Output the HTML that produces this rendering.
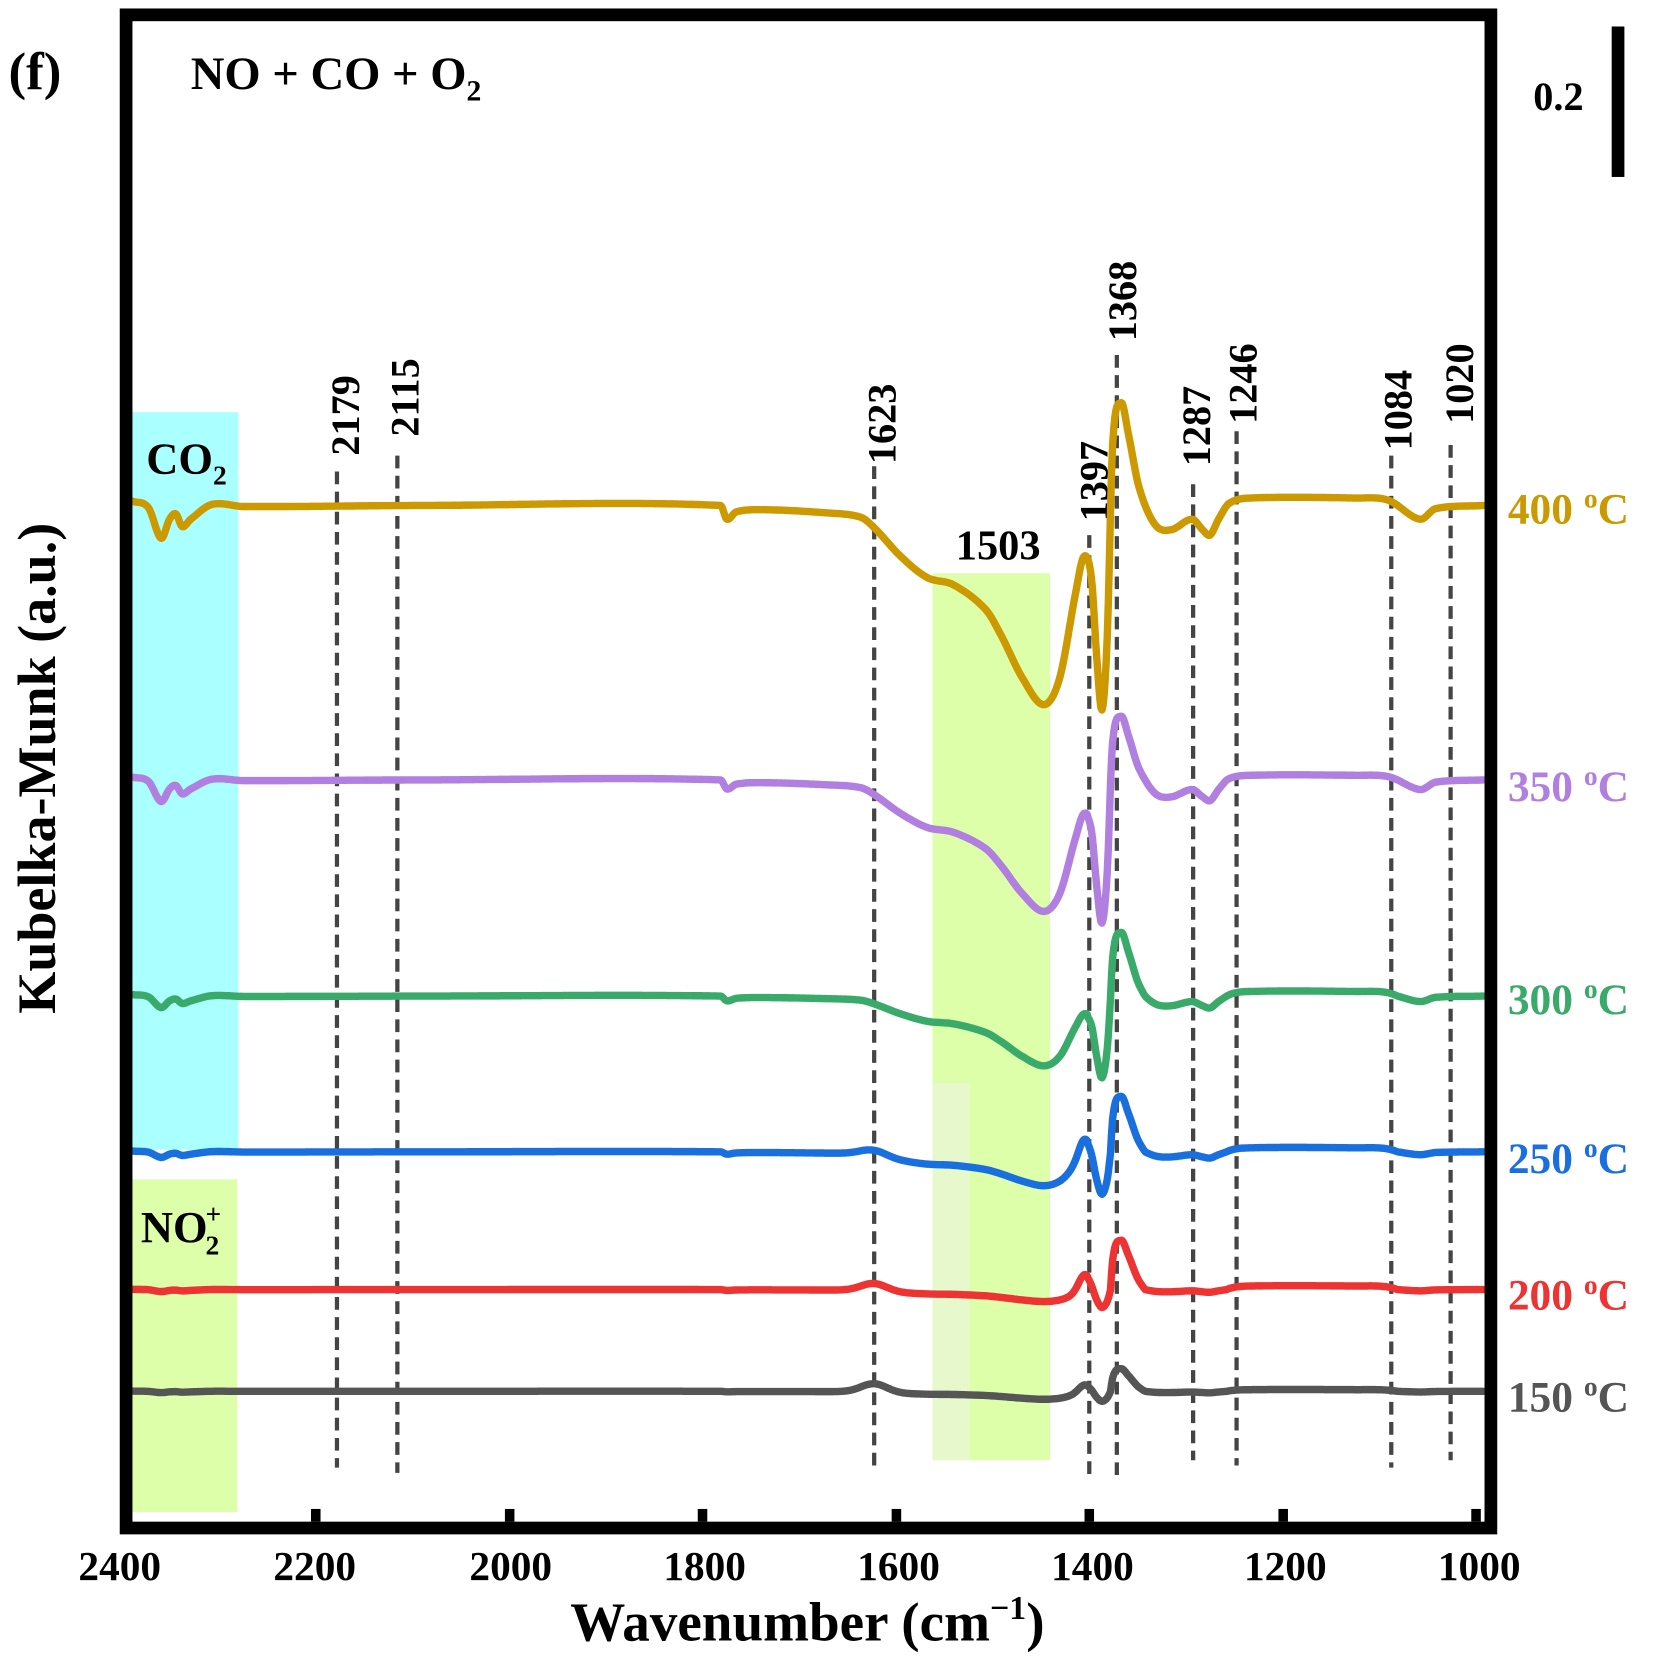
<!DOCTYPE html>
<html><head><meta charset="utf-8"><style>
html,body{margin:0;padding:0;background:#fff}
svg{display:block}
text{font-family:"Liberation Serif",serif;font-weight:bold}
</style></head><body>
<svg id="s" width="1653" height="1661" viewBox="0 0 1560 1567.5" preserveAspectRatio="none" xmlns="http://www.w3.org/2000/svg">
<rect x="125" y="389" width="100" height="696" fill="#aaffff"/>
<rect x="125" y="1113" width="99" height="314" fill="#ddffaa"/>
<rect x="880" y="541" width="111" height="837" fill="#ddffaa"/>
<rect x="880" y="1022" width="35" height="356" fill="#e6f8cc"/>
<g stroke="#444" stroke-width="4" stroke-dasharray="12,7">
<line x1="318" y1="445" x2="318" y2="1385"/>
<line x1="375" y1="430" x2="375" y2="1390"/>
<line x1="825" y1="440" x2="825" y2="1388"/>
<line x1="1028" y1="505" x2="1028" y2="1395"/>
<line x1="1054" y1="335" x2="1054" y2="1398"/>
<line x1="1126" y1="457" x2="1126" y2="1378"/>
<line x1="1167" y1="407" x2="1167" y2="1383"/>
<line x1="1313" y1="430" x2="1313" y2="1385"/>
<line x1="1369" y1="420" x2="1369" y2="1378"/>
</g>
<g font-size="38" fill="#000">
<text transform="translate(339,430) rotate(-90)">2179</text>
<text transform="translate(395,412) rotate(-90)">2115</text>
<text transform="translate(845,438) rotate(-90)">1623</text>
<text transform="translate(1045,492) rotate(-90)">1397</text>
<text transform="translate(1072,322) rotate(-90)">1368</text>
<text transform="translate(1142,440) rotate(-90)">1287</text>
<text transform="translate(1186,400) rotate(-90)">1246</text>
<text transform="translate(1332,425) rotate(-90)">1084</text>
<text transform="translate(1390,400) rotate(-90)">1020</text>
<text x="942" y="528" text-anchor="middle" font-size="40">1503</text>
<text x="138" y="447" font-size="42">CO<tspan font-size="26" dy="10">2</tspan></text>
<text x="133" y="1172" font-size="42">NO<tspan font-size="26" dx="-2" dy="12">2</tspan><tspan font-size="26" dx="-13" dy="-30">+</tspan></text>
<text x="180" y="84" font-size="44">NO + CO + O<tspan font-size="28" dy="11">2</tspan></text>
<text x="8" y="84" font-size="50">(f)</text>
<text x="1447" y="104" font-size="38">0.2</text>
</g>
<rect x="1521" y="25" width="12" height="142" fill="#000"/>
<g id="curves" fill="none" stroke-width="7" stroke-linejoin="round" stroke-linecap="round"></g>
<rect x="119" y="14" width="1288" height="1428" fill="none" stroke="#000" stroke-width="12"/>
<g stroke="#000" stroke-width="9">
<line x1="298" y1="1436" x2="298" y2="1424"/>
<line x1="481" y1="1436" x2="481" y2="1424"/>
<line x1="663" y1="1436" x2="663" y2="1424"/>
<line x1="846" y1="1436" x2="846" y2="1424"/>
<line x1="1028" y1="1436" x2="1028" y2="1424"/>
<line x1="1211" y1="1436" x2="1211" y2="1424"/>
<line x1="1393" y1="1436" x2="1393" y2="1424"/>
</g>
<g font-size="39" text-anchor="middle">
<text x="113" y="1491">2400</text><text x="297" y="1491">2200</text><text x="482" y="1491">2000</text>
<text x="665" y="1491">1800</text><text x="848" y="1491">1600</text><text x="1031" y="1491">1400</text>
<text x="1213" y="1491">1200</text><text x="1396" y="1491">1000</text>
<text x="762" y="1548" font-size="52">Wavenumber (cm<tspan font-size="32" dy="-20">−1</tspan><tspan dy="20">)</tspan></text>
<text transform="translate(52,725) rotate(-90)" font-size="51">Kubelka-Munk (a.u.)</text>
</g>
<g font-size="41">
<text x="1423" y="494" fill="#cc9900">400 <tspan font-size="26" dy="-15">o</tspan><tspan dy="15">C</tspan></text>
<text x="1423" y="756" fill="#b07fe0">350 <tspan font-size="26" dy="-15">o</tspan><tspan dy="15">C</tspan></text>
<text x="1423" y="957" fill="#3aaa6a">300 <tspan font-size="26" dy="-15">o</tspan><tspan dy="15">C</tspan></text>
<text x="1423" y="1107" fill="#1a6fdf">250 <tspan font-size="26" dy="-15">o</tspan><tspan dy="15">C</tspan></text>
<text x="1423" y="1236" fill="#ee3333">200 <tspan font-size="26" dy="-15">o</tspan><tspan dy="15">C</tspan></text>
<text x="1423" y="1332" fill="#555">150 <tspan font-size="26" dy="-15">o</tspan><tspan dy="15">C</tspan></text>
</g>
</svg>
<script>
var T=[[125,-4],[140,2],[152,31],[160,13],[166,8],[172,20],[180,13],[200,-1],[230,1],[400,0],[680,0],[686,13],[695,6],[720,4],[780,7],[812,11],[825,21],[850,48],[875,68],[900,75],[930,98],[945,123],[965,163],[985,188],[1000,163],[1015,83],[1023,48],[1030,68],[1035,143],[1040,193],[1045,123],[1050,-57],[1058,-97],[1065,-67],[1075,-17],[1090,18],[1105,23],[1125,13],[1135,23],[1142,28],[1150,13],[1160,-2],[1180,-7],[1280,-7],[1310,-5],[1340,13],[1355,3],[1400,0]];
var S=[
 ["#cc9900",477,1,1,1,0,0],
 ["#b07fe0",736,0.66,0.7,0.62,0,0],
 ["#3aaa6a",940,0.35,0.4,0.62,0,0],
 ["#1a6fdf",1087,0.17,0.21,0.54,-5,-20],
 ["#ee3333",1217,0.06,0.09,0.48,-7,-17],
 ["#555555",1313,0.04,0.05,0.22,-8,-8]];
function g(x,c,w){return Math.exp(-((x-c)*(x-c))/(2*w*w));}
function interp(x){
 var i=0;while(i<T.length-2&&T[i+1][0]<x)i++;
 var p0=T[Math.max(i-1,0)],p1=T[i],p2=T[i+1],p3=T[Math.min(i+2,T.length-1)];
 var t=(x-p1[0])/(p2[0]-p1[0]);if(t<0)t=0;if(t>1)t=1;
 var h=p2[0]-p1[0];
 var m1=(p2[1]-p0[1])/(p2[0]-p0[0]||1)*h, m2=(p3[1]-p1[1])/(p3[0]-p1[0]||1)*h;
 var t2=t*t,t3=t2*t;
 return (2*t3-3*t2+1)*p1[1]+(t3-2*t2+t)*m1+(-2*t3+3*t2)*p2[1]+(t3-t2)*m2;
}
var G=document.getElementById('curves'),h='';
S.forEach(function(s){
 var pts=[];
 for(var x=125;x<=1400;x+=1){
  var dy=interp(x),f;
  if(x<1027)f=s[2];else f=dy>0?s[3]:s[4];
  var y=s[1]+dy*f+s[5]*g(x,825,12)+s[6]*g(x,1024,6);
  pts.push(x.toFixed(1)+','+y.toFixed(1));
 }
 h+='<path stroke="'+s[0]+'" d="M'+pts.join(' L')+'"/>';
});
G.innerHTML=h;
</script>
</body></html>
